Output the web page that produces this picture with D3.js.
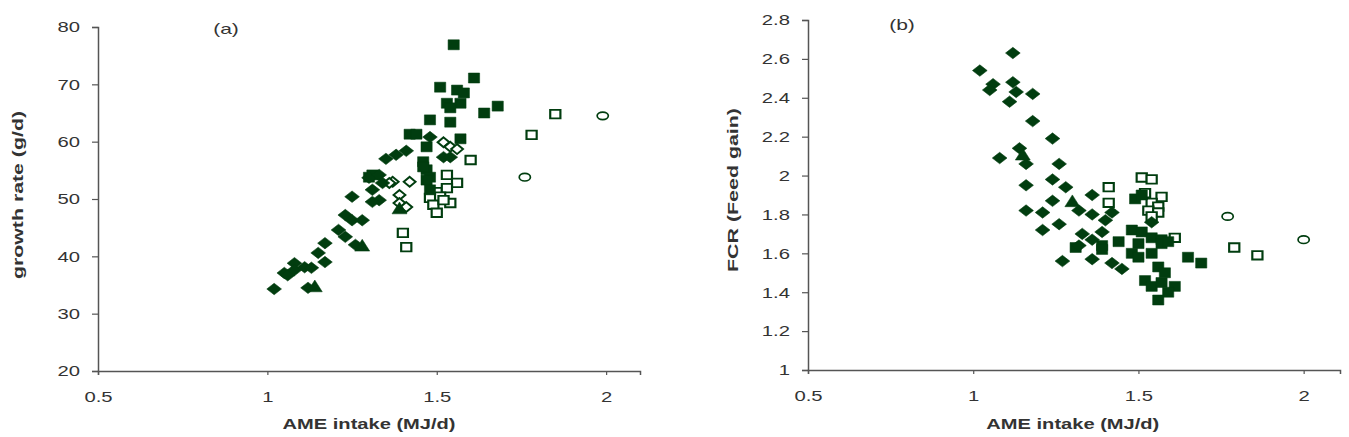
<!DOCTYPE html>
<html>
<head>
<meta charset="utf-8">
<script src="https://cdn.jsdelivr.net/npm/d3@7"></script>
<style>
  body { margin: 0; background: #fff; }
  text { font-family: "Liberation Sans", Arial, sans-serif; fill: #333; }
</style>
</head>
<body>
<div class="sandbox"></div>
<script>
// panel (a): growth rate vs AME intake
var aFilledDiamond = [[1.02,34.3],[1.05,37.1],[1.06,36.7],[1.08,38.8],[1.08,37.6],[1.11,38.1],[1.13,38.0],
  [1.15,40.6],[1.17,39.0],[1.17,42.3],[1.21,44.6],[1.23,47.2],[1.25,46.3],[1.23,43.4],[1.26,42.0],
  [1.12,34.5],[1.25,50.4],[1.28,46.3],[1.30,53.7],[1.33,54.2],[1.34,52.8],[1.31,51.6],[1.33,49.8],
  [1.31,49.5],[1.35,57.0],[1.38,57.7],[1.41,58.4],[1.48,60.8],[1.52,57.3],[1.54,57.3]];
var aFilledSquare = [[1.55,76.9],[1.61,71.1],[1.51,69.5],[1.56,69.0],[1.58,68.5],[1.53,66.7],[1.57,66.7],
  [1.54,65.9],[1.64,65.0],[1.68,66.2],[1.48,63.8],[1.54,63.4],[1.42,61.3],[1.44,61.3],[1.47,59.1],
  [1.57,60.5],[1.46,56.5],[1.47,55.1],[1.48,53.8],[1.46,55.6],[1.47,53.3],[1.48,51.6],[1.30,53.8],[1.31,54.2]];
var aTriangle = [[1.28,41.6],[1.14,34.5],[1.39,48.1]];
var aOpenDiamond = [[1.52,59.9],[1.54,59.1],[1.56,58.7],[1.37,53.0],[1.42,53.0],[1.36,52.8],
  [1.39,50.7],[1.39,49.3],[1.41,48.6]];
var aOpenSquare = [[1.85,64.8],[1.78,61.2],[1.60,56.8],[1.40,44.1],[1.41,41.6],[1.53,54.2],[1.56,52.8],
  [1.50,51.2],[1.53,51.9],[1.48,50.2],[1.51,50.4],[1.54,49.3],[1.49,49.0],[1.50,47.6],[1.52,49.8]];
var aOpenCircle = [[1.99,64.5],[1.76,53.8]];

// panel (b): FCR vs AME intake
var bFilledDiamond = [[1.02,2.54],[1.06,2.47],[1.05,2.44],[1.12,2.63],[1.12,2.48],[1.13,2.43],[1.18,2.42],
  [1.11,2.38],[1.18,2.28],[1.24,2.19],[1.08,2.09],[1.14,2.14],[1.16,2.06],[1.26,2.06],[1.16,1.95],
  [1.24,1.98],[1.28,1.94],[1.16,1.82],[1.21,1.81],[1.24,1.87],[1.36,1.90],[1.32,1.82],[1.36,1.80],
  [1.40,1.77],[1.42,1.81],[1.39,1.71],[1.33,1.70],[1.36,1.67],[1.32,1.64],[1.54,1.76],[1.27,1.56],
  [1.36,1.57],[1.42,1.55],[1.45,1.52],[1.26,1.75],[1.21,1.72]];
var bFilledSquare = [[1.49,1.88],[1.51,1.90],[1.48,1.72],[1.51,1.71],[1.54,1.68],[1.57,1.67],[1.44,1.66],
  [1.50,1.65],[1.39,1.64],[1.31,1.63],[1.39,1.62],[1.48,1.60],[1.50,1.58],[1.54,1.60],[1.57,1.65],
  [1.59,1.66],[1.65,1.58],[1.69,1.55],[1.56,1.53],[1.58,1.50],[1.52,1.46],[1.54,1.43],[1.57,1.45],
  [1.61,1.43],[1.59,1.40],[1.56,1.36]];
var bTriangle = [[1.15,2.10],[1.30,1.86]];
var bOpenSquare = [[1.41,1.94],[1.51,1.99],[1.54,1.98],[1.41,1.86],[1.52,1.91],[1.57,1.89],[1.54,1.86],
  [1.56,1.84],[1.53,1.82],[1.56,1.81],[1.54,1.79],[1.61,1.68],[1.79,1.63],[1.86,1.59]];
var bOpenCircle = [[1.77,1.79],[2.00,1.67]];

var xTicks = [0.5, 1, 1.5, 2];
var aYTicks = [20, 30, 40, 50, 60, 70, 80];
var bYTicks = [1, 1.2, 1.4, 1.6, 1.8, 2, 2.2, 2.4, 2.6, 2.8];

var green = "#013d0f";
var w = 1349, h = 437;
var svg = d3.select(".sandbox").append("svg").attr("width", w).attr("height", h);

// glyphs in the original are wider than Liberation Sans, so stretch along the baseline
function stretch(sel, k, len) {
  sel.each(function() {
    var n = this.getComputedTextLength();
    d3.select(this).attr("textLength", len || n * k).attr("lengthAdjust", "spacingAndGlyphs");
  });
}

var panels = [
  { left: 98, right: 640, top: 27, bottom: 371, xMax: 2.1, yDomain: [20, 80], yTicks: aYTicks,
    ytitle: "growth rate (g/d)", ytx: 18, yty: 195, ylen: 168, tag: "(a)", tagX: 226, tagY: 34,
    series: [[aOpenSquare, "osq"], [aOpenDiamond, "odi"], [aOpenCircle, "oci"],
             [aFilledSquare, "fsq"], [aFilledDiamond, "fdi"], [aTriangle, "tri"]] },
  { left: 808, right: 1340, top: 20, bottom: 370, xMax: 2.11, yDomain: [1, 2.8], yTicks: bYTicks,
    ytitle: "FCR (Feed gain)", ytx: 733, yty: 190, ylen: 164, tag: "(b)", tagX: 902, tagY: 30,
    series: [[bOpenSquare, "osq"], [bOpenCircle, "oci"],
             [bFilledSquare, "fsq"], [bFilledDiamond, "fdi"], [bTriangle, "tri"]] }
];

var sym = {
  fsq: d3.symbol().type(d3.symbolSquare).size(100)(),
  osq: d3.symbol().type(d3.symbolSquare).size(72)(),
  fdi: d3.symbol().type(d3.symbolDiamond2).size(84)(),
  odi: d3.symbol().type(d3.symbolDiamond2).size(62)(),
  tri: d3.symbol().type(d3.symbolTriangle).size(80)()
};
var xScaleOf = { fsq: 1.12, osq: 1.2, fdi: 1.28, odi: 1.2, tri: 1.1 };

panels.forEach(function(p) {
  var x = d3.scaleLinear().domain([0.5, p.xMax]).range([p.left, p.right]);
  var y = d3.scaleLinear().domain(p.yDomain).range([p.bottom, p.top]);
  var g = svg.append("g");

  var yAxis = g.append("g")
    .attr("transform", "translate(" + p.left + ",0)")
    .call(d3.axisLeft(y).tickValues(p.yTicks).tickSize(6).tickPadding(12).tickFormat(d3.format("")));
  var xAxis = g.append("g")
    .attr("transform", "translate(0," + p.bottom + ")")
    .call(d3.axisBottom(x).tickValues(xTicks).tickSize(4).tickPadding(16).tickFormat(d3.format("")));
  [xAxis, yAxis].forEach(function(a) {
    a.select(".domain").attr("stroke", "#555").attr("stroke-width", 1.5);
    a.selectAll(".tick line").attr("stroke", "#555").attr("stroke-width", 1.2);
    a.selectAll(".tick text").attr("font-size", 15).attr("fill", "#333")
      .style("font-family", "Liberation Sans, Arial, sans-serif");
  });
  stretch(xAxis.selectAll(".tick text"), 1.35);
  stretch(yAxis.selectAll(".tick text"), 1.35);

  var xt = g.append("text")
    .attr("x", (x(1) + x(1.5)) / 2 + 17).attr("y", 429)
    .attr("text-anchor", "middle").attr("font-size", 15).attr("font-weight", "bold")
    .text("AME intake (MJ/d)");
  stretch(xt, 1, 173);
  var yt = g.append("text")
    .attr("transform", "translate(" + p.ytx + "," + p.yty + ") rotate(-90)")
    .attr("dy", "0.35em")
    .attr("text-anchor", "middle").attr("font-size", 15).attr("font-weight", "bold")
    .text(p.ytitle);
  stretch(yt, 1, p.ylen);
  var tg = g.append("text")
    .attr("x", p.tagX).attr("y", p.tagY)
    .attr("text-anchor", "middle").attr("font-size", 15)
    .text(p.tag);
  stretch(tg, 1.4);

  p.series.forEach(function(s) {
    var data = s[0], kind = s[1];
    var open = kind.charAt(0) === "o";
    var sel = g.append("g").selectAll("path").data(data).enter();
    if (kind === "oci") {
      sel.append("ellipse")
        .attr("cx", d => x(d[0])).attr("cy", d => y(d[1]))
        .attr("rx", 5.6).attr("ry", 3.8)
        .attr("fill", "#fff").attr("stroke", green).attr("stroke-width", 1.7);
    } else {
      sel.append("path")
        .attr("d", sym[kind])
        .attr("transform", d => "translate(" + x(d[0]) + "," + y(d[1]) + ") scale(" + xScaleOf[kind] + ",1)")
        .attr("fill", open ? "#fff" : green)
        .attr("stroke", green)
        .attr("stroke-width", open ? 1.8 : 0.5);
    }
  });
});
</script>
</body>
</html>
